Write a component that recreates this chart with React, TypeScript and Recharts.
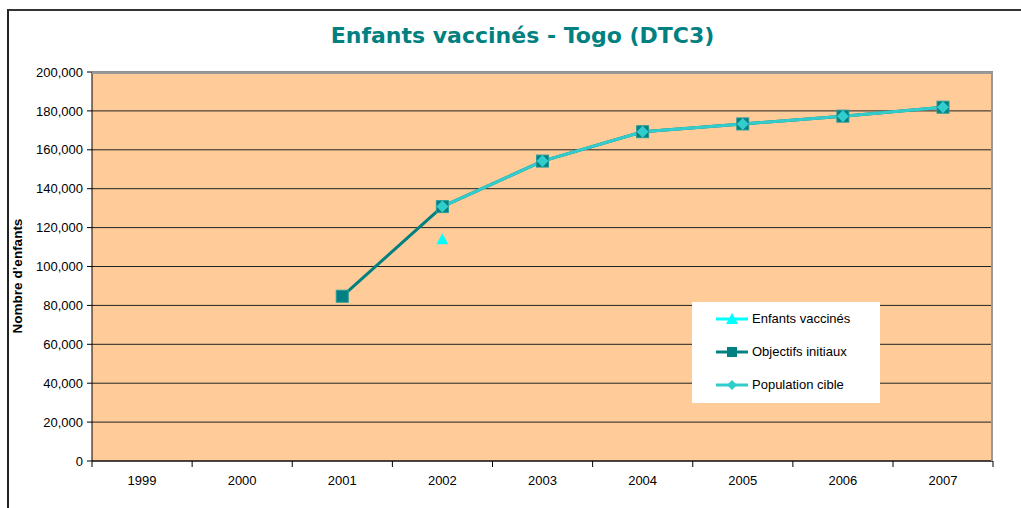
import React from "react";
import { LineChart, Line, XAxis, YAxis, CartesianGrid } from "recharts";

const years = ["1999", "2000", "2001", "2002", "2003", "2004", "2005", "2006", "2007"];
const vaccines = [null, null, null, 114000, null, null, null, null, null];
const objectifs = [null, null, 84700, 130800, 154200, 169300, 173300, 177300, 181900];
const population = [null, null, null, 130800, 154200, 169300, 173300, 177300, 181900];
const yTicks = [0, 20000, 40000, 60000, 80000, 100000, 120000, 140000, 160000, 180000, 200000];

const data = years.map((year, i) => ({
  year,
  vaccines: vaccines[i],
  objectifs: objectifs[i],
  population: population[i],
}));

const FONT = "'Liberation Sans', Arial, sans-serif";

const Triangle = (props: any) => {
  const { cx, cy, key } = props;
  if (cx == null || cy == null) return <g key={key} />;
  return <polygon key={key} points={`${cx},${cy - 6} ${cx - 6},${cy + 5} ${cx + 6},${cy + 5}`} fill="#00FFFF" />;
};

const Square = (props: any) => {
  const { cx, cy, key } = props;
  if (cx == null || cy == null) return <g key={key} />;
  return <rect key={key} x={cx - 6} y={cy - 6} width={12} height={12} fill="#008080" stroke="#2A9A9A" strokeWidth={1} />;
};

const Diamond = (props: any) => {
  const { cx, cy, key } = props;
  if (cx == null || cy == null) return <g key={key} />;
  return <polygon key={key} points={`${cx},${cy - 6} ${cx + 6},${cy} ${cx},${cy + 6} ${cx - 6},${cy}`} fill="#33CCCC" />;
};

const YearTick = (props: any) => {
  const { x, y, payload, index } = props;
  const half = 50;
  return (
    <g>
      <line x1={x - half} x2={x - half} y1={y - 8} y2={y - 2} stroke="#000" />
      {index === years.length - 1 && <line x1={x + half} x2={x + half} y1={y - 8} y2={y - 2} stroke="#000" />}
      <text x={x} y={y + 16} textAnchor="middle" fontSize={13} fontFamily={FONT} fill="#000">
        {payload.value}
      </text>
    </g>
  );
};

const legendItems = [
  { name: "Enfants vaccinés", color: "#00FFFF", marker: "triangle" },
  { name: "Objectifs initiaux", color: "#008080", marker: "square" },
  { name: "Population cible", color: "#33CCCC", marker: "diamond" },
];

const LegendBox = () => (
  <div
    style={{
      position: "absolute",
      left: 692,
      top: 302,
      background: "#fff",
      width: 188,
      height: 101,
      boxSizing: "border-box",
      paddingTop: 0,
    }}
  >
    {legendItems.map((it) => (
      <div key={it.name} style={{ display: "flex", alignItems: "center", height: 33, fontFamily: FONT, fontSize: 13, color: "#000" }}>
        <svg width={34} height={14} style={{ marginLeft: 24, marginRight: 2 }}>
          <line x1={0} x2={32} y1={7} y2={7} stroke={it.color} strokeWidth={3} />
          {it.marker === "triangle" && <polygon points="16,1 10,12 22,12" fill={it.color} />}
          {it.marker === "square" && <rect x={11} y={2} width={10} height={10} fill={it.color} />}
          {it.marker === "diamond" && <polygon points="16,2 21,7 16,12 11,7" fill={it.color} />}
        </svg>
        <span>{it.name}</span>
      </div>
    ))}
  </div>
);

export default function App() {
  return (
    <div style={{ position: "absolute", left: 0, top: 0, width: 1021, height: 508, background: "#fff", overflow: "hidden" }}>
      <div
        style={{
          position: "absolute",
          left: 7,
          top: 9,
          width: 1030,
          height: 520,
          borderTop: "2px solid #333",
          borderLeft: "2px solid #222",
        }}
      />
      <div
        style={{
          position: "absolute",
          left: 0,
          width: 1045,
          top: 23,
          textAlign: "center",
          fontFamily: "'DejaVu Sans', Verdana, sans-serif",
          fontWeight: "bold",
          fontSize: 22,
          color: "#008080",
        }}
      >
        Enfants vaccinés - Togo (DTC3)
      </div>
      <div
        style={{
          position: "absolute",
          left: 17,
          top: 276,
          transform: "translate(-50%, -50%) rotate(-90deg)",
          whiteSpace: "nowrap",
          fontFamily: FONT,
          fontWeight: "bold",
          fontSize: 13.5,
          color: "#000",
        }}
      >
        Nombre d’enfants
      </div>
      <div style={{ position: "absolute", left: 0, top: 0 }}>
        <LineChart width={1021} height={508} data={data} margin={{ top: 72, right: 28, bottom: 17, left: 32 }}>
          <CartesianGrid vertical={false} stroke="#222" fill="#FFCC99" fillOpacity={1} />
          <XAxis
            dataKey="year"
            padding={{ left: 50, right: 50 }}
            axisLine={{ stroke: "#000" }}
            tickLine={false}
            tick={<YearTick />}
            height={30}
            interval={0}
          />
          <YAxis
            domain={[0, 200000]}
            ticks={yTicks}
            width={60}
            tickSize={5}
            tickMargin={4}
            axisLine={{ stroke: "#000" }}
            tickLine={{ stroke: "#000" }}
            tick={{ fontSize: 13, fontFamily: FONT, fill: "#000" }}
            tickFormatter={(v) => Number(v).toLocaleString("en-US")}
          />
          <Line dataKey="vaccines" name="Enfants vaccinés" stroke="#00FFFF" strokeWidth={3} dot={Triangle} isAnimationActive={false} />
          <Line dataKey="objectifs" name="Objectifs initiaux" stroke="#008080" strokeWidth={3} dot={Square} isAnimationActive={false} />
          <Line dataKey="population" name="Population cible" stroke="#33CCCC" strokeWidth={3} dot={Diamond} isAnimationActive={false} />
        </LineChart>
      </div>
      <div
        style={{
          position: "absolute",
          left: 92,
          top: 72,
          width: 901,
          height: 389,
          boxSizing: "border-box",
          borderTop: "2px solid #999",
          borderRight: "2px solid #999",
          pointerEvents: "none",
        }}
      />
      <LegendBox />
    </div>
  );
}
